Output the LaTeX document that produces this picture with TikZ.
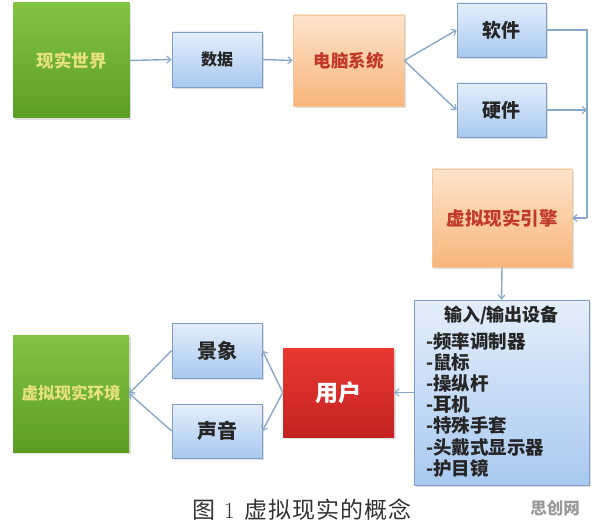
\documentclass[tikz,border=0pt]{standalone}
\usepackage{fontspec}
\setmainfont{Noto Sans CJK SC}
\newfontfamily\latinserif{Latin Modern Roman}
\usetikzlibrary{shadows,arrows.meta}
\definecolor{lnc}{HTML}{88A8CA}
\definecolor{bluetop}{HTML}{E4EEFB}
\definecolor{bluebot}{HTML}{A9C9F0}
\definecolor{blueedge}{HTML}{7F9FC8}
\definecolor{orgtop}{HTML}{FDE4CC}
\definecolor{orgbot}{HTML}{F8B57A}
\definecolor{orgedge}{HTML}{F2C7A0}
\definecolor{orgtext}{HTML}{C0392B}
\definecolor{grntop}{HTML}{82C341}
\definecolor{grnbot}{HTML}{5C9E24}
\definecolor{grntext}{HTML}{E6E27A}
\definecolor{redtop}{HTML}{E83A32}
\definecolor{redbot}{HTML}{C42222}
\tikzset{
  boxbase/.style={rectangle, inner sep=0pt, anchor=center,
    drop shadow={opacity=0.25, shadow xshift=1.5pt, shadow yshift=-2pt}},
  bluebox/.style={boxbase, top color=bluetop, bottom color=bluebot, draw=blueedge, line width=0.8pt, text=black!85},
  orgbox/.style={boxbase, top color=orgtop, bottom color=orgbot, draw=orgedge, line width=0.6pt, text=orgtext},
  grnbox/.style={boxbase, top color=grntop, bottom color=grnbot, draw=none, text=grntext},
  redbox/.style={boxbase, top color=redtop, bottom color=redbot, draw=none, text=white},
  conn/.style={draw=lnc, line width=1.4pt},
  arr/.style={conn, -{Straight Barb[length=4pt,width=7pt,line width=1.1pt]}},
}
\begin{document}
\begin{tikzpicture}[x=1pt,y=-1pt]
\useasboundingbox (0,0) rectangle (596,526);
\fill[white] (0,0) rectangle (596,526);
% nodes
\node[grnbox, minimum width=116pt, minimum height=115pt, font=\fontsize{17.5}{20}\selectfont\bfseries] (world) at (71.5,60.5) {现实世界};
\node[bluebox, minimum width=90pt, minimum height=55pt, font=\fontsize{16}{19}\selectfont\bfseries] (data) at (217,59.5) {数据};
\node[orgbox, minimum width=111pt, minimum height=91pt, font=\fontsize{17.5}{20}\selectfont\bfseries] (pc) at (348.5,60.5) {电脑系统};
\node[bluebox, minimum width=89pt, minimum height=54pt, font=\fontsize{19}{22}\selectfont\bfseries] (sw) at (501.5,30) {软件};
\node[bluebox, minimum width=89pt, minimum height=54pt, font=\fontsize{19}{22}\selectfont\bfseries] (hw) at (501.5,110) {硬件};
\node[orgbox, minimum width=140pt, minimum height=98pt, font=\fontsize{18.5}{22}\selectfont\bfseries] (engine) at (502,218) {虚拟现实引擎};
\node[bluebox, minimum width=175pt, minimum height=185pt] (io) at (501.5,392.5) {};
\node[font=\fontsize{18}{21}\selectfont\bfseries, text=black!85] (iotitle) at (501.5,315) {输入/输出设备};
\node[font=\fontsize{18.5}{21.2}\selectfont\bfseries, text=black!85, align=left, anchor=north west, inner sep=0pt] (iolist) at (426,332) {-频率调制器\\-鼠标\\-操纵杆\\-耳机\\-特殊手套\\-头戴式显示器\\-护目镜};
\node[redbox, minimum width=111pt, minimum height=89pt, font=\fontsize{23}{26}\selectfont\bfseries] (user) at (338.5,392.5) {用户};
\node[bluebox, minimum width=90pt, minimum height=55pt, font=\fontsize{20}{23}\selectfont\bfseries] (scene) at (217,350.5) {景象};
\node[bluebox, minimum width=90pt, minimum height=54pt, font=\fontsize{20}{23}\selectfont\bfseries] (sound) at (217,431) {声音};
\node[grnbox, minimum width=116pt, minimum height=117pt, font=\fontsize{16.5}{19}\selectfont\bfseries] (env) at (71,393.5) {虚拟现实环境};
% caption and watermark
\node[font=\fontsize{23}{26}\selectfont, text=black!80] (cap) at (302,510) {图\ \,{\latinserif 1}\ \ 虚\kern1pt 拟\kern1pt 现\kern1pt 实\kern1pt 的\kern1pt 概\kern1pt 念};
\node[font=\fontsize{16.5}{19}\selectfont\bfseries, text=black!40] (wm) at (555,508) {思创网};
% connectors
\coordinate (c1) at (587,30);
\coordinate (c2) at (587,110);
\coordinate (c3) at (587,218);
\draw[arr] (world.east) -- (data.west);
\draw[arr] (data.east) -- (pc.west);
\draw[arr] (pc.east) -- (sw.west);
\draw[arr] (pc.east) -- (hw.west);
\draw[conn] (sw.east) -- (c1) -- (c3);
\draw[arr] (c3) -- (engine.east);
\draw[arr] (hw.east) -- (c2);
\draw[arr] (engine.south) -- (io.north);
\draw[arr] (io.west) -- (user.east);
\draw[arr] (user.west) -- (scene.east);
\draw[arr] (user.west) -- (sound.east);
\draw[arr] (scene.west) -- (env.east);
\draw[arr] (sound.west) -- (env.east);
\end{tikzpicture}
\end{document}
